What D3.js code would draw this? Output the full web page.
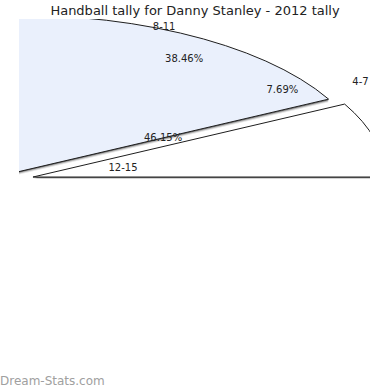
<!DOCTYPE html>
<html><head><meta charset="utf-8">
<script src="https://cdn.jsdelivr.net/npm/d3@7"></script>
<style>body{margin:0;background:#fff}</style>
</head><body><script>
const title = "Handball tally for Danny Stanley - 2012 tally";
const categories = ["4-7", "8-11", "12-15", ""];
const values = [1, 5, 6, 1];
const showLabels = [true, true, true, false];
const colors = ["#ffffff", "#eaf0fc", "#ffffff", "#ffffff"];
const watermark = "Dream-Stats.com";

const W = 390, H = 390;
const svg = d3.select("body").append("svg").attr("width", W).attr("height", H);
const FONT = "'DejaVu Sans', sans-serif";

svg.append("text").attr("x", 195).attr("y", 15).attr("text-anchor", "middle")
  .style("font-family", FONT).style("font-size", "13px").attr("fill", "#222").text(title);

const data = categories.map((c, i) => ({ c, v: values[i], color: colors[i], show: showLabels[i] }));
const total = d3.sum(values);
const pie = d3.pie().sort(null).value(d => d.v)
  .startAngle(Math.PI / 2).endAngle(Math.PI / 2 - 2 * Math.PI);
const arcs = pie(data);

// pie geometry (elliptical, exploded)
const cx = 18.7, cy = 178.6, rx = 352, k = 0.446, splice = 14.7;
const arcGen = d3.arc().innerRadius(0).outerRadius(rx);
const mid = d => (d.startAngle + d.endAngle) / 2;
const tr = (d, dy = 0) => {
  const am = mid(d);
  return `translate(${cx + splice * Math.sin(am)},${cy - splice * k * Math.cos(am) + dy}) scale(1,${k})`;
};

const defs = svg.append("defs");
defs.append("clipPath").attr("id", "plot").append("rect")
  .attr("x", 19).attr("y", 19).attr("width", 351).attr("height", 159.5);
const g = svg.append("g").attr("clip-path", "url(#plot)");

[[3, "#e6e6e6"], [2, "#b4b4b4"], [1, "#6e6e6e"]].forEach(([o, c]) => {
  g.selectAll(null).data(arcs).join("path")
    .attr("d", arcGen).attr("transform", d => tr(d, o)).attr("fill", c);
});
g.selectAll(null).data(arcs).join("path")
  .attr("d", arcGen).attr("transform", d => tr(d))
  .attr("fill", d => d.data.color)
  .attr("stroke", "#1e1e1e").attr("stroke-width", 1)
  .attr("vector-effect", "non-scaling-stroke");

// labels
const L = { x: 195, y: 99 }, outer = { rx: 162, ry: 73 }, inner = { rx: 90, ry: 41 };
const lab = svg.append("g").style("font-family", FONT).style("font-size", "10px").attr("fill", "#222");
arcs.filter(d => d.data.show).forEach(d => {
  const am = mid(d), s = Math.sin(am), c = Math.cos(am);
  lab.append("text")
    .attr("x", L.x + outer.rx * s).attr("y", L.y - outer.ry * c).attr("dy", "0.35em")
    .attr("text-anchor", s >= 0 ? "start" : "end").text(d.data.c);
  lab.append("text")
    .attr("x", L.x + inner.rx * s).attr("y", L.y - inner.ry * c).attr("dy", "0.35em")
    .attr("text-anchor", "middle").text((d.data.v / total * 100).toFixed(2) + "%");
});

svg.append("text").attr("x", 0).attr("y", 385)
  .style("font-family", FONT).style("font-size", "12px").attr("fill", "#a0a0a0").text(watermark);
</script></body></html>
